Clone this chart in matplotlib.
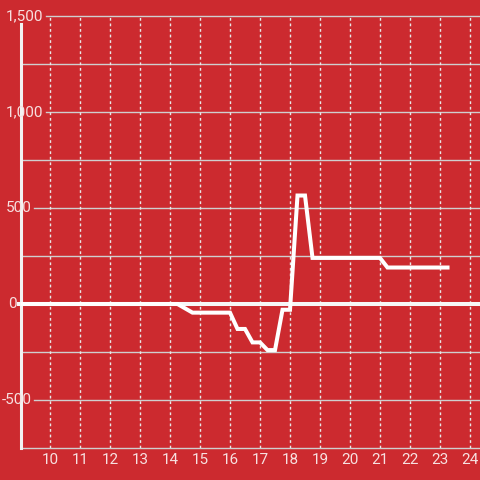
import matplotlib.pyplot as plt
import numpy as np

# hour of day vs value
hours = [9.0, 14.25, 14.75, 16.0, 16.25, 16.5, 16.75, 17.0, 17.25, 17.5,
         17.75, 18.0, 18.25, 18.5, 18.75, 21.0, 21.25, 23.25]
values = [0, 0, -45, -45, -130, -130, -200, -200, -240, -240,
          -30, -30, 565, 565, 240, 240, 190, 190]

xticks = list(range(10, 25))
yticks = [-500, 0, 500, 1000, 1500]
ytick_labels = ['-500', '0', '500', '1,000', '1,500']
ylabel_left_px = [2, 8, 6, 6, 6]

bg = '#cc2a2f'
txt = '#f7e0e0'
plt.rcParams['font.family'] = ['Roboto', 'DejaVu Sans']

W = 480
fig = plt.figure(figsize=(4.8, 4.8), dpi=100)
fig.patch.set_facecolor(bg)
ax = fig.add_axes([21/W, 32/W, 459/W, 432/W])
ax.set_facecolor(bg)
x0, x1 = 9.0333, 24.3333
ax.set_xlim(x0, x1)
ax.set_ylim(-750, 1500)

for s in ax.spines.values():
    s.set_visible(False)
ax.set_xticks([])
ax.set_yticks([])

# y tick labels (drawn in figure pixels)
label_right = {}
renderer = fig.canvas.get_renderer()
for yv, lab, lp in zip(yticks, ytick_labels, ylabel_left_px):
    ypix = ax.transData.transform((x0, yv))[1]
    t = fig.text(lp / W, ypix / W, lab, ha='left', va='center', fontsize=11,
                 color=txt, zorder=5)
    bb = t.get_window_extent(renderer)
    label_right[yv] = bb.x1

# horizontal grid, starting after labels where there is one
for yv in np.arange(-750, 1501, 250):
    if yv == 0:
        continue
    start = x0
    if yv in label_right:
        start = ax.transData.inverted().transform((label_right[yv] + 2, 0))[0]
    ax.plot([start, x1], [yv, yv], color='#cfcfcf', lw=1, zorder=1, clip_on=False)

for xv in xticks:
    ax.plot([xv, xv], [-750, 1500], color='#e8e8e8', lw=1, ls=(0, (2, 2)), zorder=1)

# left axis line and zero line
ax.plot([x0, x0], [-750, 1458], color='#f2f2f2', lw=2.2, zorder=2, clip_on=False)
zstart = ax.transData.inverted().transform((label_right[0] + 2, 0))[0]
ax.plot([zstart, x1], [0, 0], color='#f7f7f7', lw=2.9, zorder=3, clip_on=False)

ax.plot(hours, values, color='white', lw=2.9, zorder=4, solid_joinstyle='miter')

# x tick labels
for xv in xticks:
    ax.annotate(str(xv), (xv, -750), xytext=(0, -12.5 * 72 / 100),
                textcoords='offset points', ha='center', va='center',
                fontsize=11, color=txt, annotation_clip=False)

fig.savefig('out.png', dpi=100, facecolor=bg)
